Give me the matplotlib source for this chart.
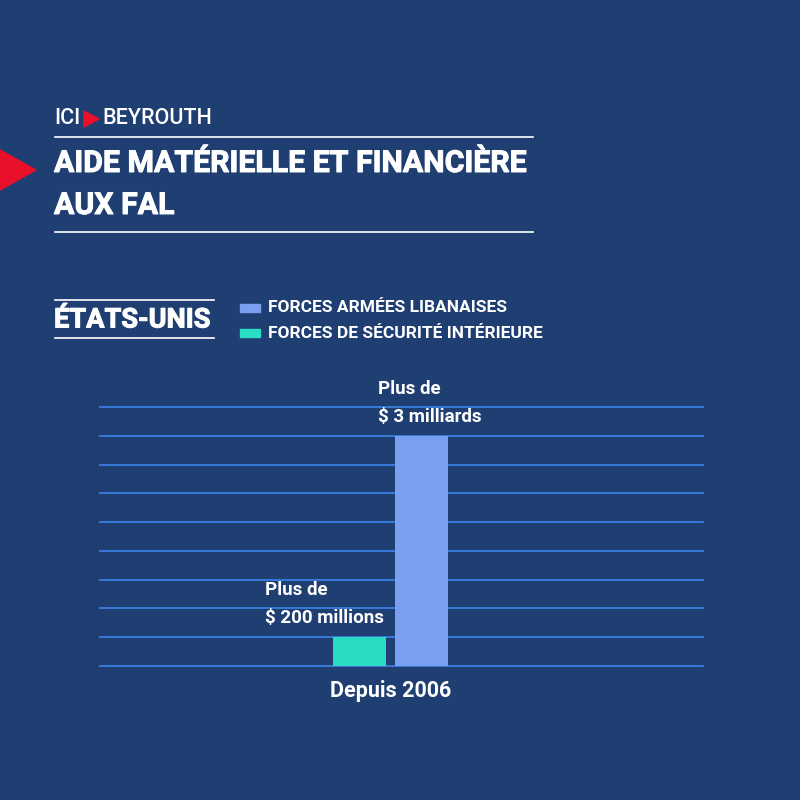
import matplotlib
matplotlib.use("Agg")
import matplotlib.pyplot as plt
import matplotlib.patheffects as pe
from matplotlib.patches import Polygon, Rectangle

# données (hauteurs en unités de grille, le graphique n'est pas à l'échelle)
series = ["FORCES DE SÉCURITÉ INTÉRIEURE", "FORCES ARMÉES LIBANAISES"]
heights = [1, 8]
annotations = ["Plus de\n$ 200 millions", "Plus de\n$ 3 milliards"]
label_x = [-2.02, -0.2]
category = "Depuis 2006"
grid_levels = list(range(0, 10))

BG = "#1f3e72"
TEAL = "#2bdcc5"
BLUE = "#7b9ff0"
GRID = "#3a7fe0"
WHITE = "#ffffff"

plt.rcParams['font.family'] = ['Roboto', 'DejaVu Sans']

fig = plt.figure(figsize=(8, 8), dpi=100, facecolor=BG)

def px(x, y):
    # pixels (origine en haut à gauche) -> coordonnées figure
    return x / 800, 1 - y / 800

thick = [pe.withStroke(linewidth=0.7, foreground=WHITE)]

# en-tête
fig.text(*px(54, 119), "ICI", color=WHITE, fontsize=15.5, fontweight="medium",
         va="center", ha="left")
fig.patches.append(Polygon([px(84, 111), px(84, 127), px(99, 119)], closed=True,
                           transform=fig.transFigure, color="#e8102a"))
fig.text(*px(102, 119), "BEYROUTH", color=WHITE, fontsize=15.5, fontweight="medium",
         va="center", ha="left")

fig.add_artist(plt.Line2D([55 / 800, 533 / 800], [1 - 137 / 800] * 2, color=WHITE, lw=1.2))
fig.text(*px(54, 164), "AIDE MATÉRIELLE ET FINANCIÈRE", color=WHITE, fontsize=21.8,
         fontweight="bold", va="center", ha="left", path_effects=thick)
fig.text(*px(54, 206), "AUX FAL", color=WHITE, fontsize=21.8,
         fontweight="bold", va="center", ha="left", path_effects=thick)
fig.add_artist(plt.Line2D([55 / 800, 533 / 800], [1 - 232 / 800] * 2, color=WHITE, lw=1.2))
fig.patches.append(Polygon([px(0, 150), px(0, 190), px(36, 170)], closed=True,
                           transform=fig.transFigure, color="#e8102a"))

# pays + légende
fig.add_artist(plt.Line2D([55 / 800, 214 / 800], [1 - 300 / 800] * 2, color=WHITE, lw=1.2))
fig.text(*px(54, 320), "ÉTATS-UNIS", color=WHITE, fontsize=19.6, fontweight="bold",
         va="center", ha="left", path_effects=thick)
fig.add_artist(plt.Line2D([55 / 800, 214 / 800], [1 - 338 / 800] * 2, color=WHITE, lw=1.2))

legend_colors = [BLUE, TEAL]
legend_names = [series[1], series[0]]
for i, (c, name) in enumerate(zip(legend_colors, legend_names)):
    y = 308 + i * 25
    fig.patches.append(Rectangle(px(240, y + 4), 20 / 800, 8 / 800,
                                 transform=fig.transFigure, color=c))
    fig.text(*px(268, y), name, color=WHITE, fontsize=12.5, fontweight="bold",
             va="center", ha="left")

# graphique à barres
ax = fig.add_axes([100 / 800, 134 / 800, 603 / 800, 259 / 800])
ax.set_facecolor(BG)
ax.set_xlim(-4.685, 5.04)
ax.set_ylim(0, 9)
for lvl in grid_levels:
    ax.axhline(lvl, color=GRID, lw=1.3, zorder=1, clip_on=False)

positions = [-0.5, 0.5]
colors = [TEAL, BLUE]
ax.bar(positions, heights, width=0.84, color=colors, zorder=2)

for x, h, txt in zip(label_x, heights, annotations):
    ax.text(x, h + 0.35, txt, color=WHITE, fontsize=13.5, fontweight="bold",
            ha="left", va="bottom", linespacing=1.7, zorder=3)

ax.text(0, -0.5, category, color=WHITE, fontsize=15.5, fontweight="bold",
        ha="center", va="top")

for s in ax.spines.values():
    s.set_visible(False)
ax.set_xticks([])
ax.set_yticks([])

fig.savefig("out.png", dpi=100, facecolor=BG)
